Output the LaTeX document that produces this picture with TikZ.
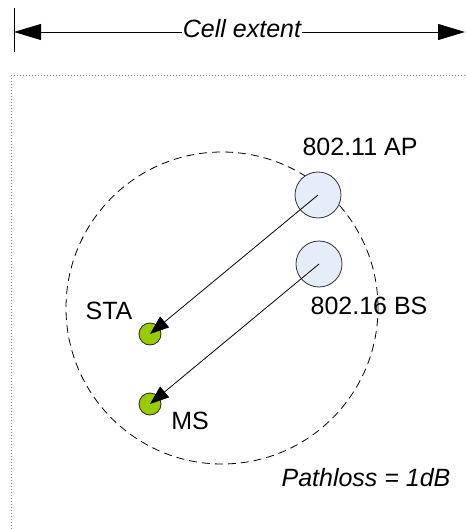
\documentclass[tikz,border=0pt]{standalone}
\usepackage{fontspec}
\setmainfont{Liberation Sans}
\usetikzlibrary{arrows.meta}
\definecolor{dotgreen}{HTML}{99CC00}
\definecolor{apblue}{HTML}{E6ECF8}
\tikzset{
  lbl/.style={font=\fontsize{25}{29}\selectfont, inner sep=0pt, anchor=base},
  ilbl/.style={lbl, font=\fontsize{25}{29}\selectfont\itshape},
  bigcirc/.style={circle, draw=black!80, fill=apblue, minimum size=46pt, inner sep=0pt, line width=0.8pt},
  smallcirc/.style={circle, draw=black!85, fill=dotgreen, minimum size=22pt, inner sep=0pt, line width=0.8pt},
  link/.style={line width=0.8pt, -{Triangle[length=19pt,width=14pt]}},
}
\begin{document}
\begin{tikzpicture}[x=1pt,y=-1pt]
\useasboundingbox (0,0) rectangle (465,529);
% cell extent dimension
\coordinate (vt) at (14,8);
\coordinate (vb) at (14,52);
\draw[line width=0.8pt] (vt) -- (vb);
\coordinate (ceL) at (14,32);
\coordinate (ceR) at (465,32);
\draw[line width=0.8pt, {Triangle[length=27pt,width=16pt]}-{Triangle[length=27pt,width=16pt]}] (ceL) -- (ceR);
\node[ilbl, fill=white, inner xsep=1pt, inner ysep=2pt] (ce) at (242,38) {Cell extent};
% dotted cell boundary
\coordinate (db) at (11,529);
\coordinate (dc) at (11,76);
\coordinate (dr) at (465,76);
\draw[gray, dotted, line width=1pt] (db) -- (dc) -- (dr);
% dashed coverage circle
\coordinate (cc) at (222,308);
\draw[dashed, dash pattern=on 8pt off 5pt, line width=0.8pt] (cc) circle[radius=156pt];
% stations
\node[bigcirc] (ap) at (318,195) {};
\node[bigcirc] (bs) at (319,264) {};
\node[smallcirc] (sta) at (150,334) {};
\node[smallcirc] (ms) at (150,404) {};
\draw[link] (ap.center) -- (sta.center);
\draw[link] (bs.center) -- (ms.center);
% labels
\node[lbl] (aplbl) at (360,156) {802.11 AP};
\node[lbl] (bslbl) at (369,314) {802.16 BS};
\node[lbl] (stalbl) at (109,319) {STA};
\node[lbl] (mslbl) at (190,429) {MS};
\node[ilbl] (pl) at (366,486) {Pathloss = 1dB};
\end{tikzpicture}
\end{document}
